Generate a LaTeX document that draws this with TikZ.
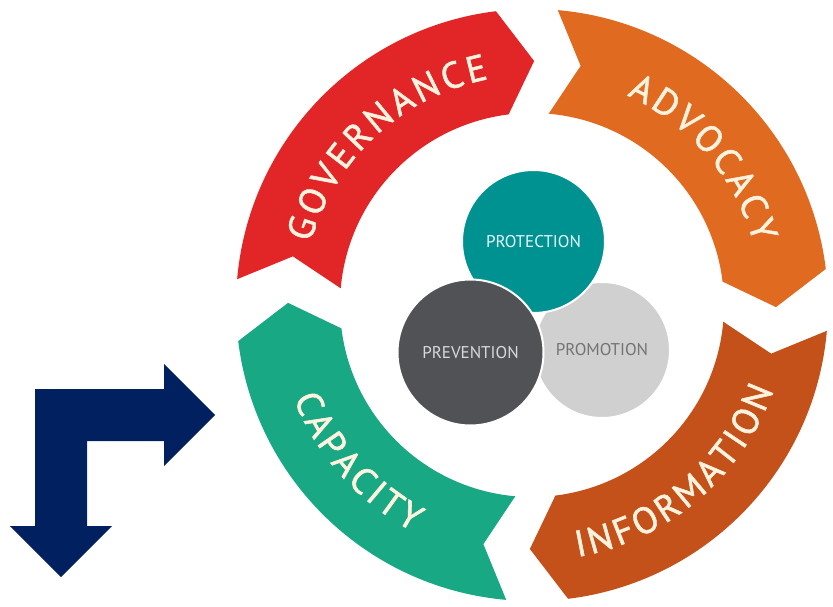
\documentclass[tikz,border=0pt]{standalone}
\usepackage{fontspec}
\setmainfont{PT Sans}
\newfontfamily\ringfont[FakeBold=1.5]{PT Sans}
\usetikzlibrary{decorations.text}

\definecolor{govred}{RGB}{226,38,40}
\definecolor{advorange}{RGB}{224,106,32}
\definecolor{infobrown}{RGB}{196,80,26}
\definecolor{capgreen}{RGB}{24,168,132}
\definecolor{protteal}{RGB}{0,146,144}
\definecolor{prevgrey}{RGB}{80,82,85}
\definecolor{promgrey}{RGB}{208,208,208}
\definecolor{arrownavy}{RGB}{0,32,96}
\definecolor{ringcream}{RGB}{255,242,222}

\begin{document}
\begin{tikzpicture}[x=1pt, y=1pt,
bubble/.style={circle, draw=white, line width=2pt, inner sep=0pt, font=\fontsize{17}{20}\selectfont},
ringtext/.style={decorate, decoration={text along path, text align=center, text color=ringcream, text={|\ringfont\fontsize{37}{42}\selectfont\kern3.5pt|#1}}},
]
\useasboundingbox (0,0) rectangle (833,606);

%Ring segments, tail angle / colour
\begin{scope}[shift={(532,301)}]
\foreach \t/\col in {180/govred, 90/advorange, 0/infobrown, 270/capgreen}{
  \fill[\col] ({\t-5}:296pt) arc[start angle={\t-5}, end angle={\t-83}, radius=296pt]
    -- ({\t-90.5}:244pt) -- ({\t-83}:192pt)
    arc[start angle={\t-83}, end angle={\t-5}, radius=192pt]
    -- ({\t-11.5}:244pt) -- cycle;
}

%Ring labels
\path[ringtext=GOVERNANCE] (173:230pt) arc[start angle=173, end angle=93, radius=230pt];
\path[ringtext=ADVOCACY] (81:230pt) arc[start angle=81, end angle=1, radius=230pt];
\path[ringtext=CAPACITY] (181.5:256pt) arc[start angle=181.5, end angle=261.5, radius=256pt];
\path[ringtext=INFORMATION] (270:256pt) arc[start angle=270, end angle=350, radius=256pt];
\end{scope}

%Centre circles
\node[bubble, fill=promgrey, text=black!55, minimum size=136pt] (promotion) at (602,256) {PROMOTION};
\node[bubble, fill=protteal, text=cyan!10, minimum size=143pt] (protection) at (533.5,364.5) {PROTECTION};
\node[bubble, fill=prevgrey, text=black!15, minimum size=146pt] (prevention) at (470.5,253.5) {PREVENTION};

%Bent arrow
\fill[arrownavy] (10,80) -- (35,80) -- (35,217) -- (164,217) -- (164,242) -- (215,191)
  -- (164,140) -- (164,165) -- (87,165) -- (87,80) -- (112,80) -- (61,29) -- cycle;
\end{tikzpicture}
\end{document}
